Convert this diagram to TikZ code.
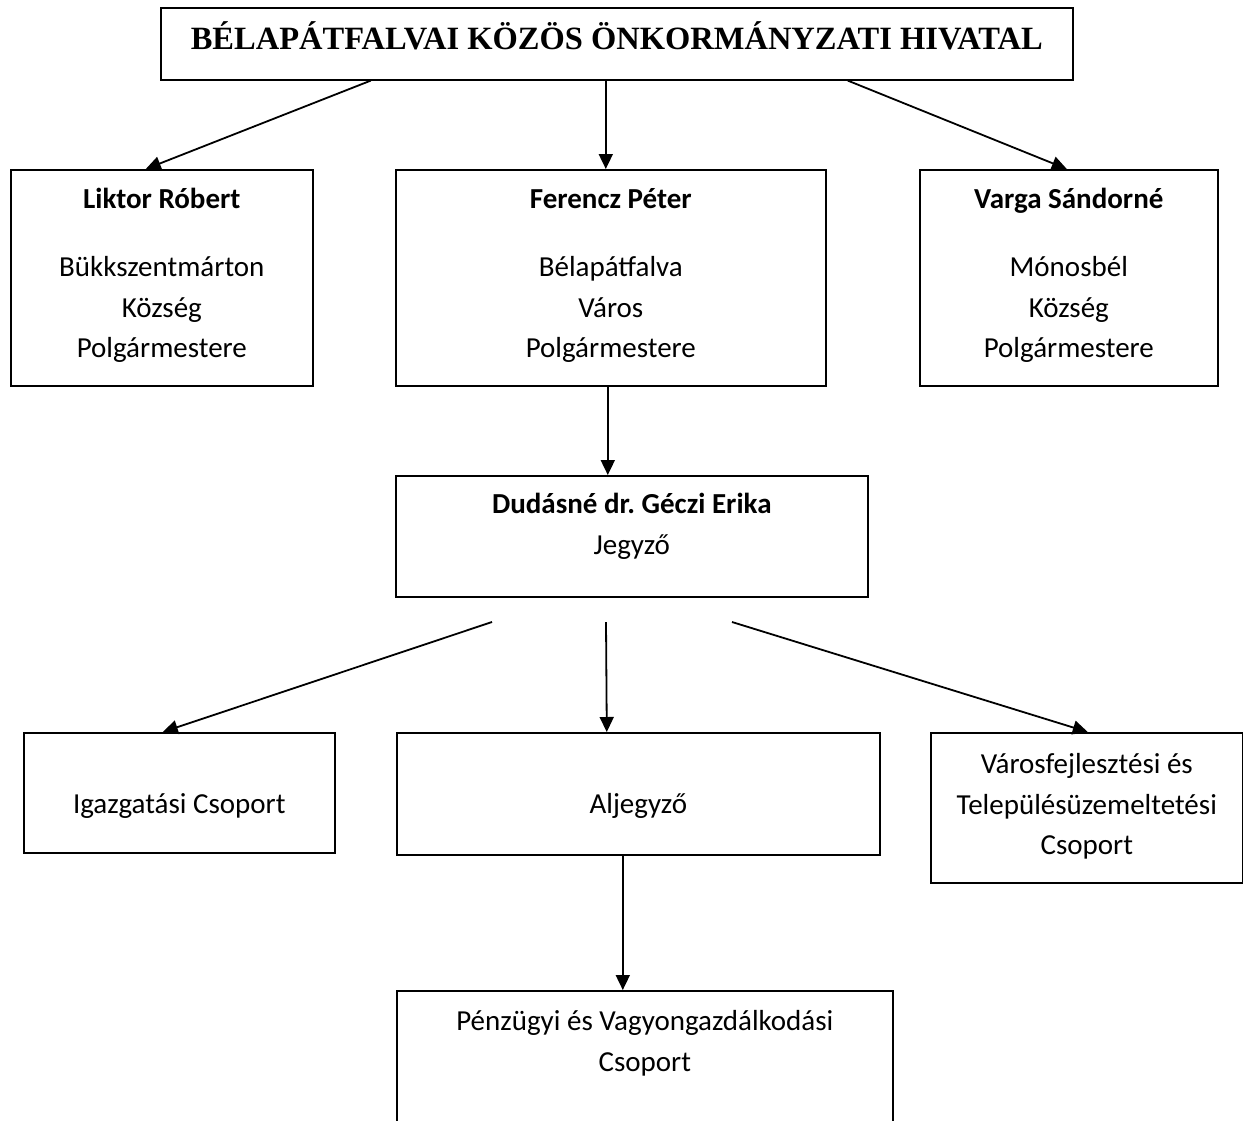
\documentclass[tikz,border=0pt]{standalone}
\usepackage{fontspec}
\setmainfont{Carlito}
\newfontfamily\titlefont{Liberation Serif}
\usetikzlibrary{arrows.meta}
\frenchspacing
\newcommand{\orgtext}[4]{\parbox[t][#2][t]{#1}{\centering\rule{0pt}{#3}#4}}
\tikzset{
  orgbox/.style={draw, line width=1.6pt, inner sep=0pt, anchor=north west,
    font=\fontsize{29}{40.5}\selectfont},
  orgarrow/.style={-{Triangle[length=15pt,width=14pt]}, line width=1.8pt}
}
\begin{document}
\begin{tikzpicture}[x=1pt,y=-1pt]
      \useasboundingbox (0,0) rectangle (1243,1120);
      \node[orgbox, font=\titlefont\bfseries\fontsize{32.5}{36}\selectfont] (ttl) at (160,7)
        {\orgtext{912pt}{72pt}{42pt}{BÉLAPÁTFALVAI KÖZÖS ÖNKORMÁNYZATI HIVATAL}};
      \node[orgbox] (lk) at (10,169)
        {\orgtext{302pt}{216pt}{39pt}{\textbf{Liktor Róbert}\\[27.5pt]Bükkszentmárton\\Község\\Polgármestere}};
      \node[orgbox] (fp) at (395,169)
        {\orgtext{430pt}{216pt}{39pt}{\textbf{Ferencz Péter}\\[27.5pt]Bélapátfalva\\Város\\Polgármestere}};
      \node[orgbox] (vs) at (919,169)
        {\orgtext{298pt}{216pt}{39pt}{\textbf{Varga Sándorné}\\[27.5pt]Mónosbél\\Község\\Polgármestere}};
      \node[orgbox] (jg) at (395,475)
        {\orgtext{472pt}{121pt}{38pt}{\textbf{Dudásné dr. Géczi Erika}\\Jegyző}};
      \node[orgbox] (ig) at (23,732)
        {\orgtext{311pt}{120pt}{81pt}{Igazgatási Csoport}};
      \node[orgbox] (al) at (396,732)
        {\orgtext{483pt}{122pt}{81pt}{Aljegyző}};
      \node[orgbox] (vf) at (930,732)
        {\orgtext{312pt}{150pt}{41pt}{Városfejlesztési és\\Településüzemeltetési\\Csoport}};
      \node[orgbox] (pv) at (396,990)
        {\orgtext{496pt}{150pt}{40pt}{Pénzügyi és Vagyongazdálkodási\\Csoport}};
      \coordinate (j1) at (492,622);
      \coordinate (j2) at (606,622);
      \coordinate (j3) at (732,622);
      \begin{scope}[orgarrow]
        \draw ([xshift=-246pt]ttl.south) to ([xshift=-16pt]lk.north);
        \draw ([xshift=-11pt]ttl.south) to ([xshift=-5pt]fp.north);
        \draw ([xshift=231pt]ttl.south) to ([xshift=-2pt]vs.north);
        \draw ([xshift=-3pt]fp.south) to ([xshift=-24pt]jg.north);
        \draw (j1) to ([xshift=-16.5pt]ig.north);
        \draw (j2) to ([xshift=-31.5pt]al.north);
        \draw (j3) to ([xshift=1pt]vf.north);
        \draw ([xshift=-15.5pt]al.south) to ([xshift=-22pt]pv.north);
      \end{scope}
    \end{tikzpicture}
\end{document}
